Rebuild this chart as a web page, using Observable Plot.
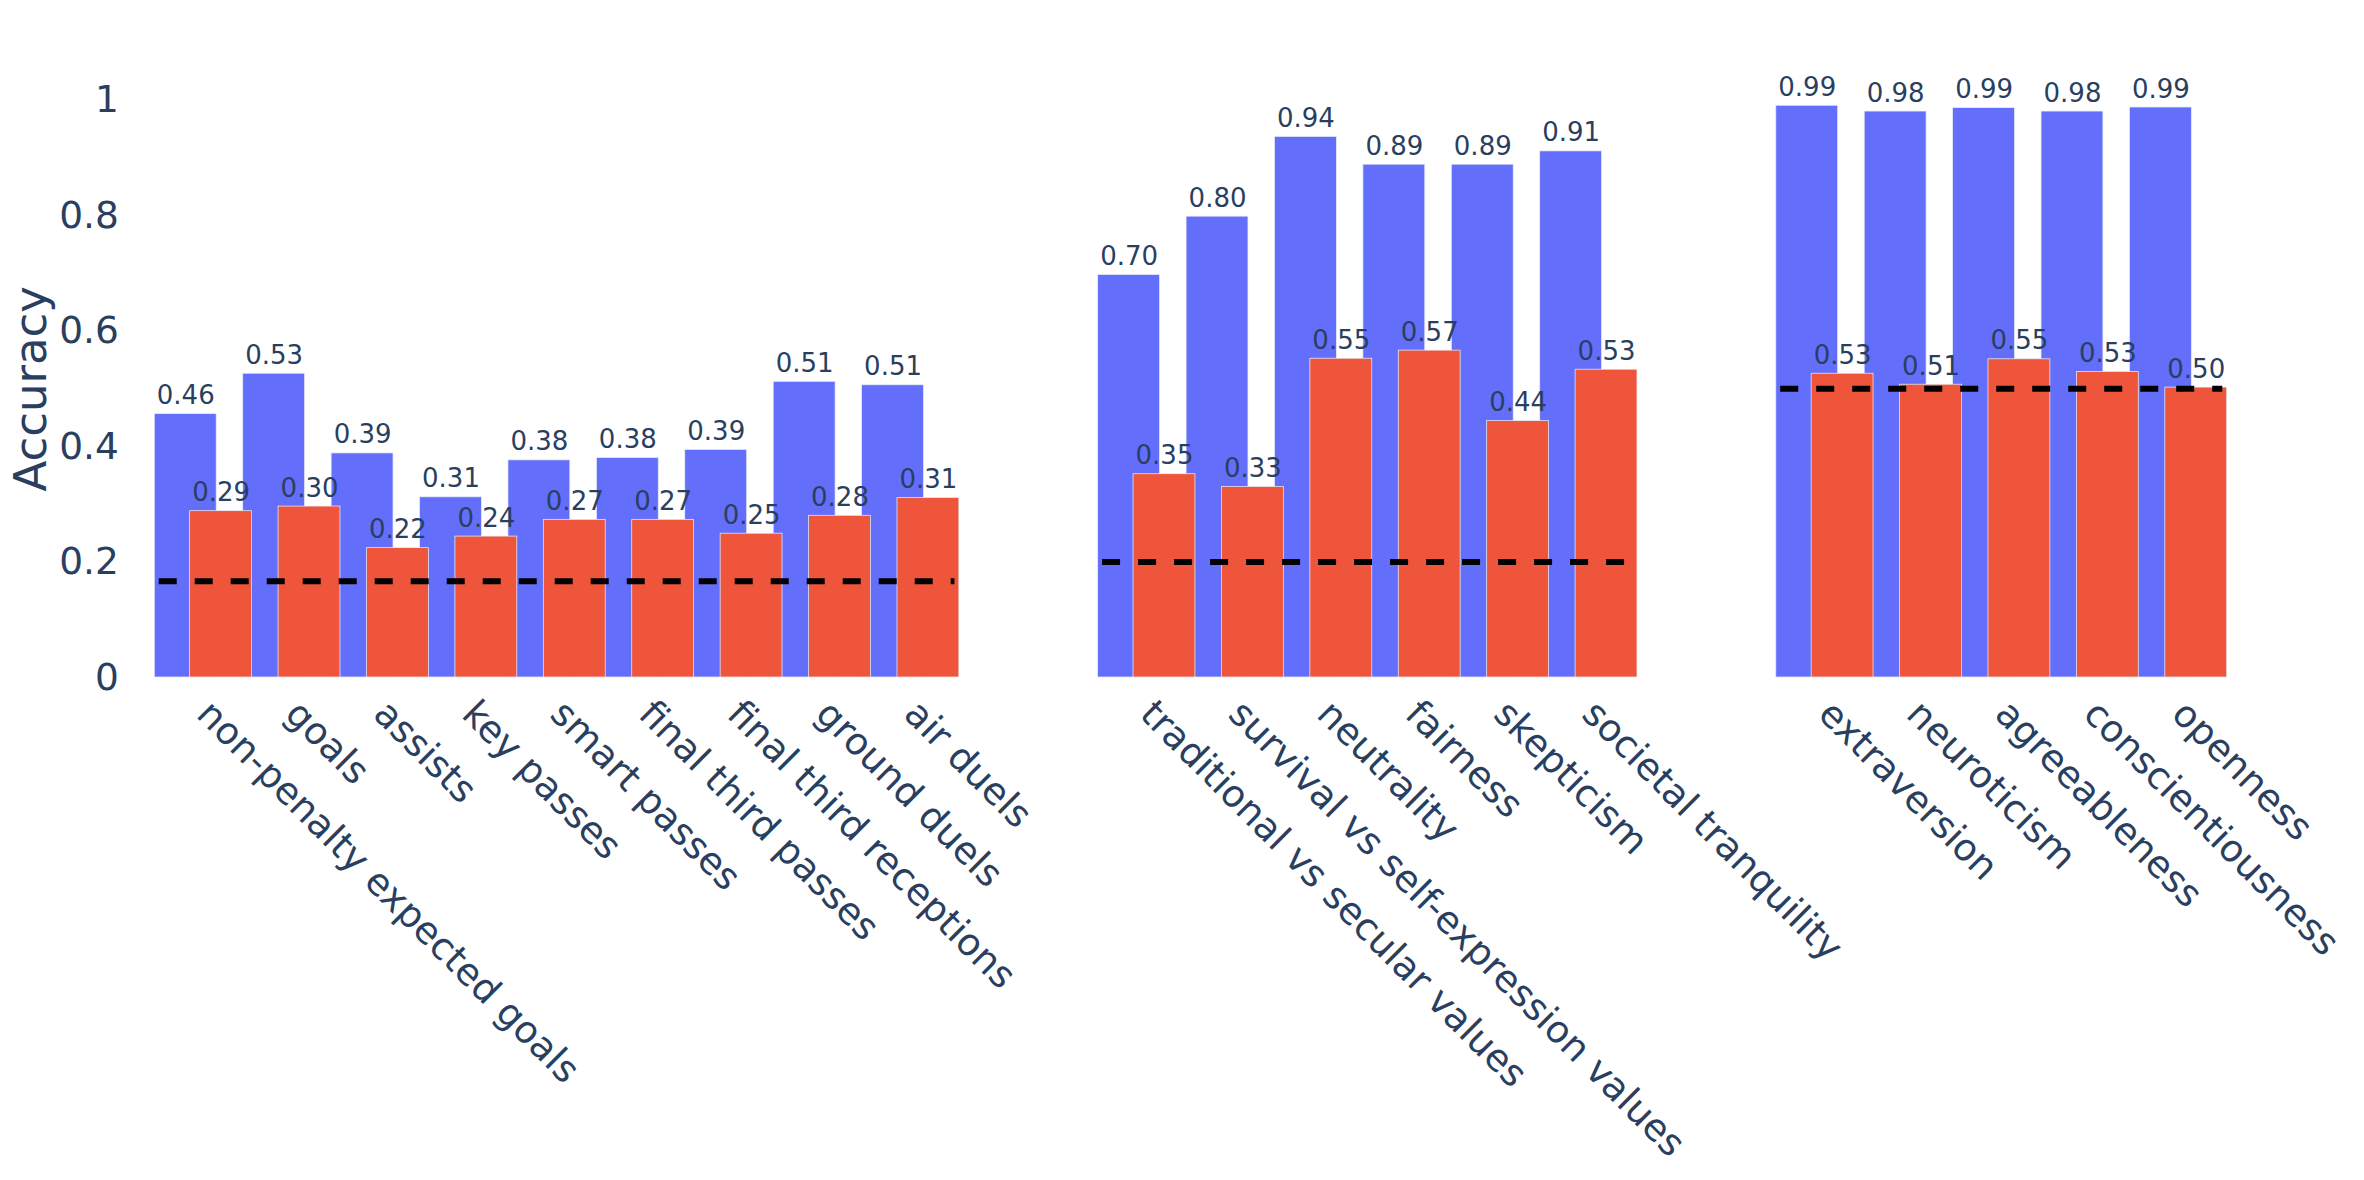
<!DOCTYPE html>
<html>
<head>
<meta charset="utf-8">
<script src="https://cdn.jsdelivr.net/npm/d3@7"></script>
<script src="https://cdn.jsdelivr.net/npm/@observablehq/plot@0.6"></script>
<style>
  html, body { margin: 0; padding: 0; background: #ffffff; overflow: hidden; }
  #chart svg { display: block; }
</style>
</head>
<body>
<div id="chart"></div>
<script>
// ---- Data ----
const footballCategories = ["non-penalty expected goals", "goals", "assists", "key passes", "smart passes", "final third passes", "final third receptions", "ground duels", "air duels"];
const footballBlue = [0.456, 0.526, 0.388, 0.312, 0.376, 0.380, 0.394, 0.512, 0.506];
const footballRed  = [0.288, 0.296, 0.224, 0.244, 0.273, 0.273, 0.249, 0.280, 0.311];
const footballChance = 0.1667;

const valuesCategories = ["traditional vs secular values", "survival vs self-expression values", "neutrality", "fairness", "skepticism", "societal tranquility"];
const valuesBlue = [0.697, 0.798, 0.936, 0.888, 0.888, 0.911];
const valuesRed  = [0.352, 0.330, 0.552, 0.566, 0.444, 0.533];
const valuesChance = 0.2;

const personalityCategories = ["extraversion", "neuroticism", "agreeableness", "conscientiousness", "openness"];
const personalityBlue = [0.990, 0.980, 0.986, 0.980, 0.987];
const personalityRed  = [0.526, 0.507, 0.551, 0.529, 0.502];
const personalityChance = 0.5;

const yTicks = [0, 0.2, 0.4, 0.6, 0.8, 1];
const yTickLabels = ["0", "0.2", "0.4", "0.6", "0.8", "1"];
const yTitle = "Accuracy";

// ---- Layout constants (category units) ----
const barWidth = 0.7;
const barShift = 0.2;
const halfSpan = barShift + barWidth / 2;   // 0.55
const groupGap = 1.57;

const groups = [
  {names: footballCategories, blue: footballBlue, red: footballRed, chance: footballChance},
  {names: valuesCategories, blue: valuesBlue, red: valuesRed, chance: valuesChance},
  {names: personalityCategories, blue: personalityBlue, red: personalityRed, chance: personalityChance}
];

const rows = [];
const rules = [];
let offset = 0;
groups.forEach((g) => {
  g.names.forEach((name, i) => rows.push({name, pos: offset + i, blue: g.blue[i], red: g.red[i]}));
  rules.push({y: g.chance, x1: offset - 0.5, x2: offset + g.names.length - 1 + 0.5});
  offset += g.names.length - 1 + 2 * halfSpan + groupGap;
});
const lastPos = rows[rows.length - 1].pos;
const nameByPos = new Map(rows.map(d => [d.pos, d.name]));
const fmt = d3.format(".2f");

const textColor = "#2a3f5f";
const blueColor = "#636efa";
const redColor = "#ef553b";

const chart = Plot.plot({
  width: 2364,
  height: 1180,
  marginLeft: 154.3,
  marginRight: 137.3,
  marginTop: 99.5,
  marginBottom: 503,
  style: {fontFamily: "DejaVu Sans, Verdana, sans-serif", background: "#ffffff", color: textColor},
  x: {domain: [-halfSpan, lastPos + halfSpan]},
  y: {domain: [0, 1]},
  marks: [
    Plot.rect(rows, {
      x1: d => d.pos - barShift - barWidth / 2,
      x2: d => d.pos - barShift + barWidth / 2,
      y1: 0, y2: "blue",
      fill: blueColor, stroke: "#E5ECF6", strokeWidth: 0.75
    }),
    Plot.rect(rows, {
      x1: d => d.pos + barShift - barWidth / 2,
      x2: d => d.pos + barShift + barWidth / 2,
      y1: 0, y2: "red",
      fill: redColor, stroke: "#E5ECF6", strokeWidth: 0.75
    }),
    Plot.ruleY(rules, {y: "y", x1: "x1", x2: "x2", stroke: "#000000", strokeWidth: 6, strokeDasharray: "18,18"}),
    Plot.text(rows, {
      x: d => d.pos - barShift, y: "blue", text: d => fmt(d.blue),
      lineAnchor: "bottom", dy: -10, fontSize: 26, fill: textColor
    }),
    Plot.text(rows, {
      x: d => d.pos + barShift, y: "red", text: d => fmt(d.red),
      lineAnchor: "bottom", dy: -10, fontSize: 26, fill: textColor
    }),
    Plot.axisY({
      ticks: yTicks,
      tickFormat: d => yTickLabels[yTicks.indexOf(d)],
      tickSize: 0, tickPadding: 36, fontSize: 37.5, label: null, fill: textColor
    }),
    Plot.text([yTitle], {
      text: d => d, frameAnchor: "left", textAnchor: "middle", rotate: -90, lineAnchor: "bottom",
      dx: -109.3, fontSize: 45, fill: textColor
    }),
    Plot.axisX({
      ticks: rows.map(d => d.pos),
      tickFormat: p => nameByPos.get(p),
      tickRotate: 45, tickSize: 0, tickPadding: 30, fontSize: 37.5, label: null, fill: textColor
    })
  ]
});
document.getElementById("chart").appendChild(chart);
</script>
</body>
</html>
